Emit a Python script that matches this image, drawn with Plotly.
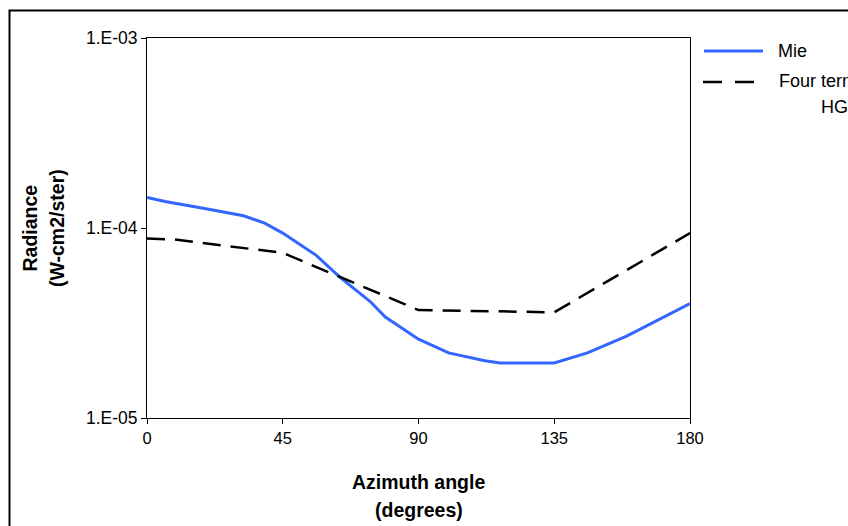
import plotly.graph_objects as go

# ---- data ----
mie_x = [0, 6, 20, 32, 39, 45, 56, 64, 74, 79, 90, 100, 112, 117, 135, 146, 159, 168, 180]
mie_y = [1.45e-4, 1.38e-4, 1.26e-4, 1.16e-4, 1.06e-4, 0.94e-4, 0.72e-4, 0.55e-4, 0.41e-4,
         0.34e-4, 0.26e-4, 0.22e-4, 0.20e-4, 0.195e-4, 0.195e-4, 0.22e-4, 0.27e-4, 0.32e-4, 0.40e-4]

hg_x = [0, 9, 45, 90, 135, 180]
hg_y = [0.88e-4, 0.87e-4, 0.74e-4, 0.37e-4, 0.36e-4, 0.94e-4]

x_ticks = [0, 45, 90, 135, 180]
y_tickvals = [1e-5, 1e-4, 1e-3]
y_ticktext = ["1.E-05", "1.E-04", "1.E-03"]

series_names = ["Mie", "Four term", "HG"]

FONT = "Liberation Sans, Arial, sans-serif"
BLUE = "#3366FF"
XTICK_SIZE = 16.5
YTICK_SIZE = 17.5
TITLE_SIZE = 19.5
LEG_SIZE = 18

fig = go.Figure()
fig.add_trace(go.Scatter(x=mie_x, y=mie_y, mode="lines", name="Mie",
                         line=dict(color=BLUE, width=3), showlegend=False))
fig.add_trace(go.Scatter(x=hg_x, y=hg_y, mode="lines", name="Four term HG",
                         line=dict(color="black", width=2.5, dash="18px,10px"), showlegend=False))

# plot area in window pixels (body margin removed below)
L, R, T, B = 147, 690, 38, 418
W, H = 848, 526
pw, ph = R - L, B - T

def px(x):
    return (x - L) / pw

def py(y):
    return (B - y) / ph

fig.update_layout(
    width=W, height=H,
    margin=dict(l=L, r=W - R, t=T, b=H - B),
    paper_bgcolor="white", plot_bgcolor="white",
    font=dict(family=FONT, size=XTICK_SIZE, color="black"),
    showlegend=False,
)
fig.update_xaxes(range=[0, 180], tickvals=x_ticks, ticks="outside", ticklen=5,
                 tickcolor="black", showline=True, linecolor="black", linewidth=1,
                 mirror=True, showgrid=False, zeroline=False,
                 tickfont=dict(family=FONT, size=XTICK_SIZE, color="black"))
fig.update_yaxes(type="log", range=[-5, -3], tickvals=y_tickvals, ticktext=y_ticktext,
                 ticks="outside", ticklen=5, tickcolor="black", showline=True,
                 linecolor="black", linewidth=1, mirror=True, showgrid=False,
                 zeroline=False, tickfont=dict(family=FONT, size=YTICK_SIZE, color="black"))

# outer chart border
fig.add_shape(type="rect", xref="paper", yref="paper",
              x0=px(9.5), x1=px(870), y0=py(560), y1=py(10.5),
              line=dict(color="black", width=2), layer="below")

def note(x, y, text, size, angle=0, xanchor="center"):
    fig.add_annotation(xref="paper", yref="paper", x=px(x), y=py(y), text=text,
                       showarrow=False, textangle=angle, xanchor=xanchor, yanchor="middle",
                       font=dict(family=FONT, size=size, color="black"))

# axis titles
note(418.5, 482, "<b>Azimuth angle</b>", TITLE_SIZE)
note(418.5, 510, "<b>(degrees)</b>", TITLE_SIZE)
note(29.5, 228, "<b>Radiance</b>", TITLE_SIZE, angle=-90)
note(57, 228, "<b>(W-cm2/ster)</b>", TITLE_SIZE, angle=-90)

# legend
fig.add_shape(type="line", xref="paper", yref="paper",
              x0=px(704), x1=px(763), y0=py(51), y1=py(51),
              line=dict(color=BLUE, width=3))
fig.add_shape(type="line", xref="paper", yref="paper",
              x0=px(703), x1=px(760), y0=py(82), y1=py(82),
              line=dict(color="black", width=2.5, dash="19px,13px"))
note(776, 51, series_names[0], LEG_SIZE, xanchor="left")
note(777, 81, series_names[1], LEG_SIZE, xanchor="left")
note(819, 107, series_names[2], LEG_SIZE, xanchor="left")

fig.write_html("out.html", config={"displayModeBar": False},
               post_script="document.body.style.margin='0';document.body.style.overflow='hidden';")
